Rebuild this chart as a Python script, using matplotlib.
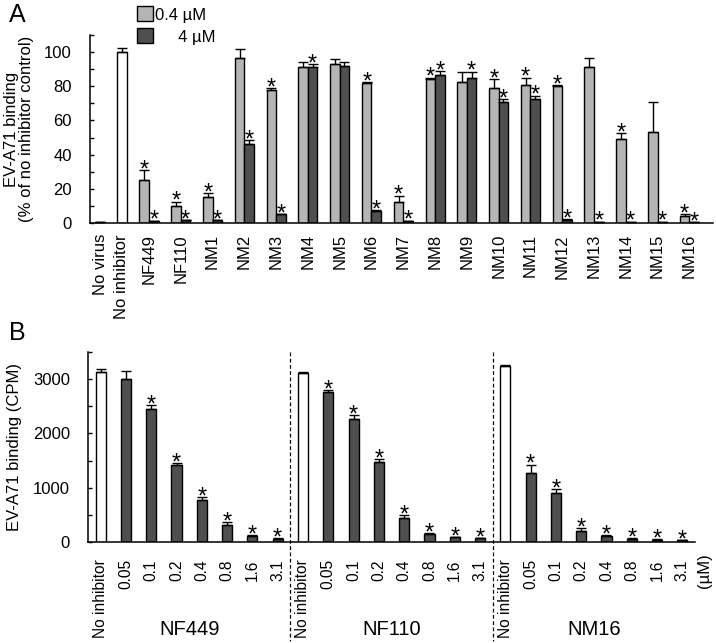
import matplotlib
matplotlib.use("Agg")
import matplotlib.pyplot as plt
import matplotlib.transforms as mtransforms
from matplotlib.patches import Patch
from matplotlib.ticker import MultipleLocator
import numpy as np

plt.rcParams['font.family'] = ['Liberation Sans', 'DejaVu Sans']

# panel A data (% of no inhibitor control)
ctrlLabelsA = ["No virus", "No inhibitor"]
ctrlValsA = [0.5, 100]
ctrlErrA = [0.2, 2.5]

groupsA = ["NF449", "NF110", "NM1", "NM2", "NM3", "NM4", "NM5", "NM6", "NM7",
           "NM8", "NM9", "NM10", "NM11", "NM12", "NM13", "NM14", "NM15", "NM16"]
lowA = [25, 10, 15, 96.5, 78, 91, 93, 82, 12, 84, 82.5, 79, 80.5, 80, 91, 49, 53, 4]
lowErrA = [6, 2.5, 2.5, 5.5, 1, 3, 3, 0.5, 4, 1, 6, 5, 4.5, 0.5, 5.5, 3.5, 18, 1]
highA = [1, 1.5, 1.5, 46.5, 5, 91, 92, 7, 1, 86.5, 85, 70.5, 72.5, 2, 0.6, 0.6, 0.6, 0.5]
highErrA = [0.3, 0.3, 0.3, 2, 0.3, 2, 2, 0.5, 0.3, 2.5, 3.5, 2, 2, 0.3, 0.2, 0.2, 0.2, 0.2]
lowStarA = [1, 1, 1, 0, 1, 0, 0, 1, 1, 1, 0, 1, 1, 1, 0, 1, 0, 1]
highStarA = [1, 1, 1, 1, 1, 1, 0, 1, 1, 1, 1, 1, 1, 1, 1, 1, 1, 1]
legendA = ["0.4 µM", "     4 µM"]

# panel B data (CPM)
concB = ["No inhibitor", "0.05", "0.1", "0.2", "0.4", "0.8", "1.6", "3.1"]
compoundsB = ["NF449", "NF110", "NM16"]
nf449 = [3130, 3000, 2445, 1415, 765, 315, 110, 60]
nf449Err = [60, 150, 80, 40, 55, 45, 10, 8]
nf110 = [3110, 2755, 2260, 1480, 450, 155, 85, 65]
nf110Err = [20, 40, 70, 40, 50, 10, 8, 8]
nm16 = [3240, 1270, 900, 205, 110, 60, 43, 30]
nm16Err = [20, 155, 75, 50, 12, 8, 6, 5]
starB = [0, 1, 1, 1, 1, 1, 1, 1]
starB449 = [0, 0, 1, 1, 1, 1, 1, 1]

LIGHT = "#b5b5b5"
DARK = "#4f4f4f"
FS = 12


def add_bars(ax, x, vals, errs, color, width):
    ax.bar(x, vals, width, color=color, edgecolor="black", linewidth=1.0, zorder=2)
    ax.errorbar(x, vals, yerr=[np.zeros(len(vals)), errs], fmt="none",
                ecolor="black", elinewidth=1.0, capsize=3.5, capthick=1.0, zorder=3)


def add_stars(ax, x, vals, errs, flags):
    for xi, v, e, f in zip(x, vals, errs, flags):
        if f:
            ax.annotate("*", (xi, v + e), xytext=(0, -4.5), textcoords="offset points",
                        ha="center", va="baseline", fontsize=17)


def style_axis(ax):
    for side in ["top", "right"]:
        ax.spines[side].set_visible(False)
    for side in ["left", "bottom"]:
        ax.spines[side].set_linewidth(1.1)
    ax.tick_params(axis="y", which="both", direction="in", length=3, width=1.0,
                   labelsize=FS, pad=13)
    ax.tick_params(axis="x", length=0, labelsize=FS)


fig = plt.figure(figsize=(7.16, 6.43), dpi=100)

# ---- panel A
axA = fig.add_axes([0.1257, 0.6532, 0.870, 0.2924])
ctrlPos = [0.46, 1.15]
centers = np.arange(2, 2 + len(groupsA))
w = 0.3
add_bars(axA, ctrlPos, ctrlValsA, ctrlErrA, "white", w)
add_bars(axA, centers - w / 2, lowA, lowErrA, LIGHT, w)
add_bars(axA, centers + w / 2, highA, highErrA, DARK, w)
add_stars(axA, centers - w / 2, lowA, lowErrA, lowStarA)
add_stars(axA, centers + w / 2, highA, highErrA, highStarA)
axA.set_xlim(0.145, 19.74)
axA.set_ylim(0, 110)
axA.yaxis.set_major_locator(MultipleLocator(20))
axA.yaxis.set_minor_locator(MultipleLocator(10))
axA.set_xticks(list(ctrlPos) + list(centers))
axA.set_xticklabels(ctrlLabelsA + groupsA, rotation=90)
style_axis(axA)
axA.tick_params(axis="x", pad=8)
axA.set_ylabel("EV-A71 binding\n(% of no inhibitor control)", fontsize=FS,
               linespacing=1.05, labelpad=7)
handles = [Patch(facecolor=LIGHT, edgecolor="black", linewidth=1.0),
           Patch(facecolor=DARK, edgecolor="black", linewidth=1.0)]
axA.legend(handles, legendA, loc="upper left", bbox_to_anchor=(0.191, 0.990),
           bbox_transform=fig.transFigure, frameon=False, fontsize=FS,
           handlelength=0.95, handleheight=1.0, handletextpad=0.15,
           labelspacing=0.35, borderpad=0, borderaxespad=0)

# ---- panel B
axB = fig.add_axes([0.1229, 0.1571, 0.8478, 0.2955])
xB = np.arange(len(concB) * len(compoundsB))
valsB = nf449 + nf110 + nm16
errsB = nf449Err + nf110Err + nm16Err
starsB = starB449 + starB + starB
colorsB = ["white" if c == "No inhibitor" else DARK for c in concB] * len(compoundsB)
axB.bar(xB, valsB, 0.4, color=colorsB, edgecolor="black", linewidth=1.0, zorder=2)
axB.errorbar(xB, valsB, yerr=[np.zeros(len(valsB)), errsB], fmt="none",
             ecolor="black", elinewidth=1.0, capsize=3.5, capthick=1.0, zorder=3)
add_stars(axB, xB, valsB, errsB, starsB)
axB.set_xlim(-0.5, 23.5)
axB.set_ylim(0, 3500)
axB.yaxis.set_major_locator(MultipleLocator(1000))
axB.yaxis.set_minor_locator(MultipleLocator(500))
axB.set_xticks(xB)
axB.set_xticklabels(concB * len(compoundsB), rotation=90)
style_axis(axB)
axB.tick_params(axis="x", pad=12.5, labelsize=11.2)
axB.set_ylabel("EV-A71 binding (CPM)", fontsize=FS, labelpad=8)

trans = mtransforms.blended_transform_factory(axB.transData, axB.transAxes)
n = len(concB)
for k, name in enumerate(compoundsB):
    axB.text(k * n + (n - 1) / 2, -0.49, name, transform=trans, ha="center",
             va="baseline", fontsize=14.5)
for k in range(1, len(compoundsB)):
    axB.plot([k * n - 0.5] * 2, [1.0, -0.52], transform=trans, color="black",
             linestyle=(0, (3, 2)), linewidth=0.9, clip_on=False)
axB.text(23.87, -0.058, "(µM)", transform=trans, rotation=90, ha="center",
         va="top", fontsize=FS)

fig.text(0.012, 0.995, "A", fontsize=18, va="top")
fig.text(0.012, 1 - 321 / 643, "B", fontsize=18, va="top")

fig.savefig("out.png", dpi=100)
